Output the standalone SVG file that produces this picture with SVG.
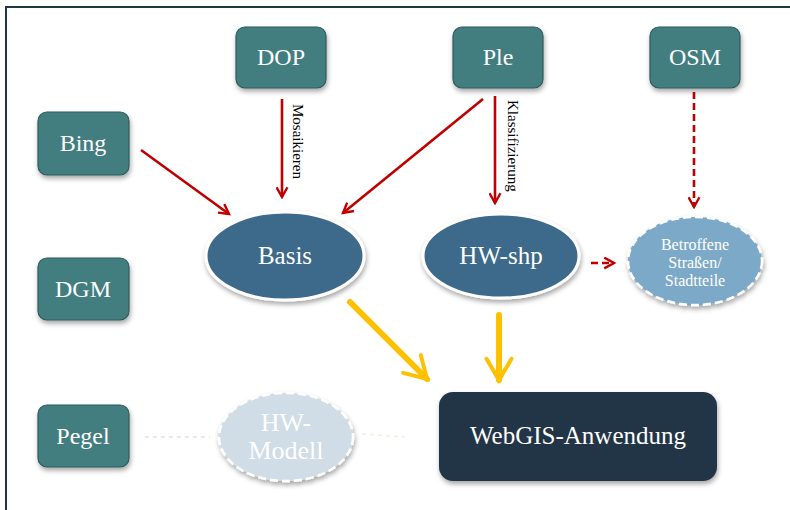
<svg xmlns="http://www.w3.org/2000/svg" width="790" height="510" viewBox="0 0 790 510">
<defs>
<filter id="sh" x="-20%" y="-20%" width="140%" height="150%">
<feDropShadow dx="1" dy="3" stdDeviation="2.5" flood-color="#000" flood-opacity="0.35"/>
</filter>
<marker id="ar" viewBox="0 0 12 12" refX="10" refY="6" markerWidth="5" markerHeight="5" orient="auto" markerUnits="strokeWidth">
<path d="M1,1 L10,6 L1,11" fill="none" stroke="#c00000" stroke-width="2.2"/>
</marker>
<marker id="ay" viewBox="0 0 12 12" refX="10" refY="6" markerWidth="5" markerHeight="5" orient="auto" markerUnits="strokeWidth">
<path d="M1.5,1 L10,6 L1.5,11" fill="none" stroke="#ffc000" stroke-width="1.6" stroke-linecap="round"/>
</marker>
</defs>
<style>
.box{fill:#437e7f;stroke:#2c5b5c;stroke-width:1.2}
.t{fill:#fff;text-anchor:middle}
.red{stroke:#c00000;stroke-width:2.6;fill:none}
.yel{stroke:#ffc000;stroke-width:6;fill:none;stroke-linecap:round}
.lbl{font-size:15px;fill:#000}
</style>
<rect width="790" height="510" fill="#fff"/>
<path d="M6,510 V7 H790" fill="none" stroke="#1f3646" stroke-width="2"/>

<g font-family="Liberation Serif, DejaVu Serif, serif">
<g id="connectors">
<line class="red" x1="282" y1="99" x2="282" y2="197" marker-end="url(#ar)"/>
<line class="red" x1="141" y1="150" x2="229" y2="214" marker-end="url(#ar)"/>
<line class="red" x1="483" y1="99" x2="343" y2="213" marker-end="url(#ar)"/>
<line class="red" x1="495" y1="96" x2="495" y2="203" marker-end="url(#ar)"/>
<line class="red" x1="694" y1="92" x2="694" y2="207" stroke-dasharray="7 4" marker-end="url(#ar)"/>
<line class="red" x1="591" y1="263" x2="614" y2="263" stroke-dasharray="7 4" marker-end="url(#ar)"/>
<line class="yel" x1="350" y1="302" x2="427" y2="379" marker-end="url(#ay)"/>
<line class="yel" x1="499" y1="315" x2="499" y2="380" marker-end="url(#ay)"/>
<line x1="145" y1="437" x2="210" y2="437" stroke="#eee0e0" stroke-width="1.5" stroke-dasharray="4 4"/>
<line x1="362" y1="434" x2="405" y2="437" stroke="#f3ede0" stroke-width="1.5" stroke-dasharray="4 4"/>
<text class="lbl" transform="translate(293,104) rotate(90)">Mosaikieren</text>
<text class="lbl" transform="translate(508,100) rotate(90)">Klassifizierung</text>
</g>

<g id="DOP"><rect class="box" x="236" y="27" width="90" height="61" rx="9" filter="url(#sh)"/><text class="t" x="281" y="65" font-size="24">DOP</text></g>
<g id="Ple"><rect class="box" x="453" y="27" width="90" height="61" rx="9" filter="url(#sh)"/><text class="t" x="498" y="65" font-size="24">Ple</text></g>
<g id="OSM"><rect class="box" x="650" y="27" width="90" height="61" rx="9" filter="url(#sh)"/><text class="t" x="695" y="65" font-size="24">OSM</text></g>
<g id="Bing"><rect class="box" x="38" y="112" width="91" height="63" rx="9" filter="url(#sh)"/><text class="t" x="83" y="151" font-size="24">Bing</text></g>
<g id="DGM"><rect class="box" x="38" y="258" width="91" height="62" rx="9" filter="url(#sh)"/><text class="t" x="83" y="297" font-size="24">DGM</text></g>
<g id="Pegel"><rect class="box" x="38" y="405" width="91" height="62" rx="9" filter="url(#sh)"/><text class="t" x="83" y="444" font-size="24">Pegel</text></g>

<g id="Basis"><ellipse cx="285" cy="256" rx="79" ry="44" fill="#3e6a8a" stroke="#fff" stroke-width="3" filter="url(#sh)"/><text class="t" x="285" y="264" font-size="25">Basis</text></g>
<g id="HW-shp"><ellipse cx="501" cy="256" rx="78" ry="42" fill="#3e6a8a" stroke="#fff" stroke-width="3" filter="url(#sh)"/><text class="t" x="501" y="264" font-size="25">HW-shp</text></g>
<g id="Betroffene"><ellipse cx="695" cy="261" rx="67" ry="44" fill="#7ba9c7" stroke="#fff" stroke-width="2.5" stroke-dasharray="8 4" filter="url(#sh)"/>
<text class="t" font-size="16"><tspan x="695" y="250">Betroffene</tspan><tspan x="695" y="268">Straßen/</tspan><tspan x="695" y="286">Stadtteile</tspan></text></g>
<g id="HW-Modell"><ellipse cx="286" cy="437" rx="67" ry="44" fill="#d0dce6" stroke="#fff" stroke-width="2.5" stroke-dasharray="8 4" filter="url(#sh)"/>
<text class="t" font-size="26"><tspan x="286" y="431">HW-</tspan><tspan x="286" y="459">Modell</tspan></text></g>
<g id="WebGIS"><rect x="439" y="392" width="278" height="89" rx="14" fill="#223646" filter="url(#sh)"/><text class="t" x="578" y="444" font-size="25">WebGIS-Anwendung</text></g>
</g>
</svg>
